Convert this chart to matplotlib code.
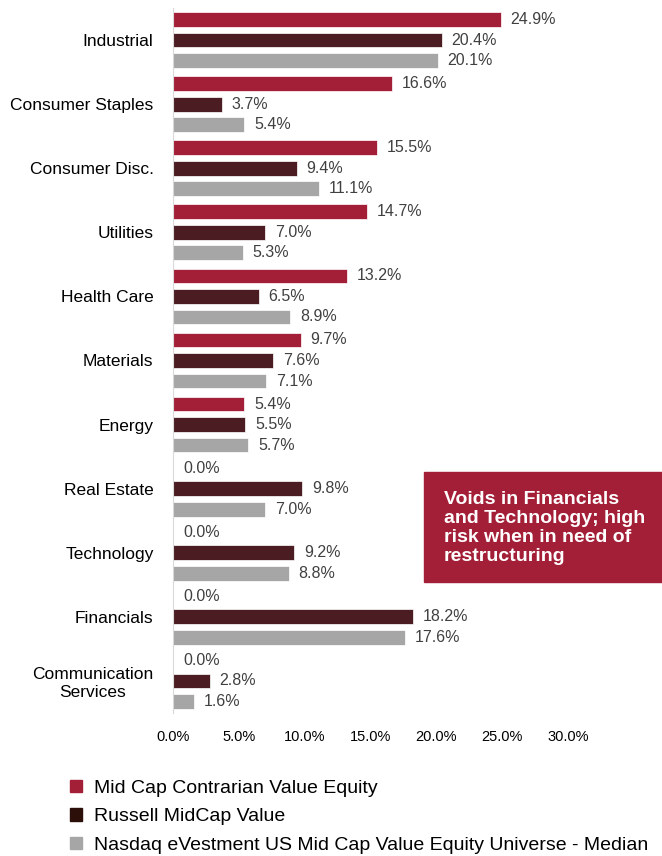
import matplotlib.pyplot as plt
from matplotlib.patches import Patch

categories = ['Industrial', 'Consumer Staples', 'Consumer Disc.', 'Utilities',
              'Health Care', 'Materials', 'Energy', 'Real Estate', 'Technology',
              'Financials', 'Communication\nServices']
contrarian = [24.9, 16.6, 15.5, 14.7, 13.2, 9.7, 5.4, 0.0, 0.0, 0.0, 0.0]
russell = [20.4, 3.7, 9.4, 7.0, 6.5, 7.6, 5.5, 9.8, 9.2, 18.2, 2.8]
universe = [20.1, 5.4, 11.1, 5.3, 8.9, 7.1, 5.7, 7.0, 8.8, 17.6, 1.6]
series_names = ['Mid Cap Contrarian Value Equity', 'Russell MidCap Value',
                'Nasdaq eVestment US Mid Cap Value Equity Universe - Median']
xticks = [0, 5, 10, 15, 20, 25, 30]

plt.rcParams['font.family'] = ['Liberation Sans', 'DejaVu Sans']

red = '#A31F37'
dark = '#4B1D23'
gray = '#A6A6A6'

fig = plt.figure(figsize=(6.62, 8.56), dpi=100)
ax = fig.add_axes([173 / 662, 1 - 713 / 856, (568 - 173) / 662, 705 / 856])

pos = list(range(len(categories)))
off = 0.32
h = 0.23
for vals, d, c in [(contrarian, -off, red), (russell, 0, dark), (universe, off, gray)]:
    ys = [p + d for p in pos]
    ax.barh(ys, vals, height=h, color=c, edgecolor='white', linewidth=0.5)
    for y, v in zip(ys, vals):
        ax.text(v + 0.75, y, f'{v:.1f}%', va='center', ha='left',
                fontsize=11.5, color='#404040')

ax.set_xlim(0, 30)
ax.set_ylim(10.5, -0.5)
ax.set_yticks(pos)
ax.set_yticklabels(categories, fontsize=12.5, ha='right', multialignment='center')
ax.tick_params(axis='y', length=0, pad=14)
ax.set_xticks(xticks)
ax.set_xticklabels([f'{t:.1f}%' for t in xticks], fontsize=10.5)
ax.tick_params(axis='x', length=0, pad=12)
for s in ['top', 'right', 'bottom']:
    ax.spines[s].set_visible(False)
ax.spines['left'].set_color('#D9D9D9')

box = plt.Rectangle((424 / 662, 1 - 582 / 856), 238 / 662, 110 / 856,
                    transform=fig.transFigure, color=red, zorder=5)
fig.patches.append(box)
fig.text(444 / 662, 1 - 528 / 856,
         'Voids in Financials\nand Technology; high\nrisk when in need of\nrestructuring',
         color='white', fontsize=14, fontweight='bold',
         va='center', ha='left', linespacing=1.13, zorder=6)

handles = [Patch(color=red), Patch(color='#2B0F08'), Patch(color=gray)]
fig.legend(handles, series_names, loc='upper left',
           bbox_to_anchor=(62 / 662, 1 - 772 / 856), frameon=False,
           fontsize=14, handlelength=0.62, handleheight=0.62, handletextpad=0.65,
           labelspacing=0.58, borderaxespad=0)

fig.savefig('out.png', dpi=100)
